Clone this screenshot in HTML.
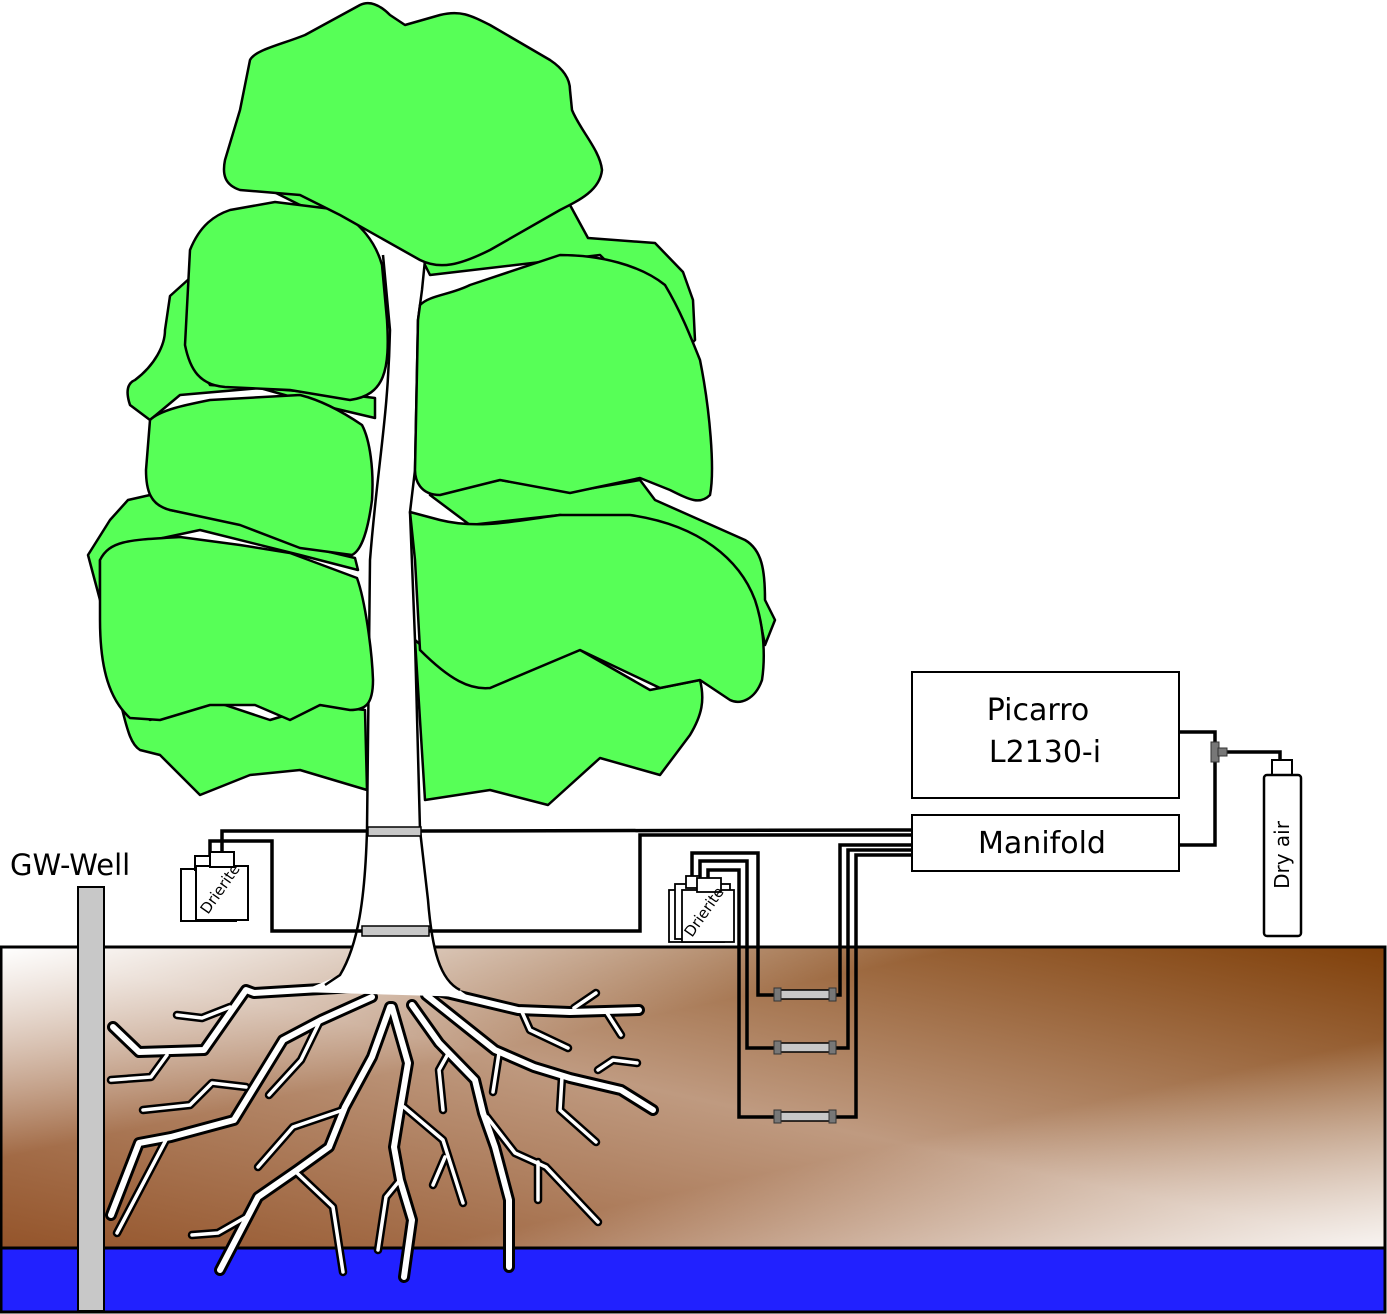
<!DOCTYPE html>
<html><head><meta charset="utf-8"><style>
html,body{margin:0;padding:0;background:#fff;}
svg{display:block;}
text{font-family:"DejaVu Sans","Liberation Sans",sans-serif;}
.mk{stroke:#000;stroke-width:12;}
.mw{stroke:#fff;stroke-width:6;}
.bk{stroke:#000;stroke-width:8.5;}
.bw{stroke:#fff;stroke-width:3.5;}
</style></head><body>
<svg width="1387" height="1314" viewBox="0 0 1387 1314" xmlns="http://www.w3.org/2000/svg">
<defs>
<linearGradient id="g1" x1="1" y1="0" x2="0" y2="1">
<stop offset="0" stop-color="#80400a"/>
<stop offset="0.5" stop-color="#bf9a80"/>
<stop offset="1" stop-color="#94542a"/>
</linearGradient>
<linearGradient id="g2" x1="0" y1="0" x2="1" y2="1">
<stop offset="0" stop-color="#fff" stop-opacity="1"/>
<stop offset="0.35" stop-color="#fff" stop-opacity="0"/>
<stop offset="0.65" stop-color="#fff" stop-opacity="0"/>
<stop offset="1" stop-color="#fff" stop-opacity="0.9"/>
</linearGradient>
</defs>
<!-- soil -->
<rect x="1" y="947" width="1384" height="302" fill="url(#g1)"/>
<rect x="1" y="947" width="1384" height="302" fill="url(#g2)"/>
<rect x="1" y="947" width="1384" height="302" fill="none" stroke="#000" stroke-width="3"/>
<rect x="1" y="1248" width="1384" height="64" fill="#2121ff" stroke="#000" stroke-width="3"/>

<!-- roots -->
<g fill="none" stroke-linejoin="round" stroke-linecap="round">
<g class="mk">
<polyline points="354,987 254,993 246,990 204,1050 139,1052 113,1027"/>
<polyline points="372,997 321,1020 283,1040 234,1120 171,1137 139,1143 111,1215"/>
<polyline points="390,1007 372,1057 345,1107 329,1147 297,1170 258,1197 220,1270"/>
<polyline points="392,1007 408,1063 400,1110 394,1147 400,1180 412,1220 404,1277"/>
<polyline points="412,1005 439,1043 475,1080 483,1113 495,1147 509,1200 509,1267"/>
<polyline points="426,995 495,1050 534,1067 570,1078 621,1090 653,1110"/>
<polyline points="434,990 518,1010 570,1012 639,1010"/>
</g>
<g class="bk">
<polyline points="167,1055 151,1077 111,1080"/>
<polyline points="230,1007 202,1018 177,1015"/>
<polyline points="246,1087 212,1083 190,1105 143,1110"/>
<polyline points="167,1138 117,1233"/>
<polyline points="319,1023 301,1060 269,1095"/>
<polyline points="343,1110 293,1127 258,1167"/>
<polyline points="297,1173 333,1207 343,1272"/>
<polyline points="246,1217 218,1233 192,1235"/>
<polyline points="404,1107 443,1140 463,1203"/>
<polyline points="400,1180 386,1197 378,1250"/>
<polyline points="445,1157 433,1185"/>
<polyline points="449,1052 439,1070 443,1110"/>
<polyline points="487,1117 515,1153 546,1167 598,1222"/>
<polyline points="538,1162 538,1200"/>
<polyline points="499,1053 493,1092"/>
<polyline points="562,1077 560,1110 596,1142"/>
<polyline points="598,1070 613,1060 637,1063"/>
<polyline points="522,1012 530,1030 568,1048"/>
<polyline points="574,1008 596,993"/>
<polyline points="607,1013 621,1035"/>
</g>
<g class="mw">
<polyline points="354,987 254,993 246,990 204,1050 139,1052 113,1027"/>
<polyline points="372,997 321,1020 283,1040 234,1120 171,1137 139,1143 111,1215"/>
<polyline points="390,1007 372,1057 345,1107 329,1147 297,1170 258,1197 220,1270"/>
<polyline points="392,1007 408,1063 400,1110 394,1147 400,1180 412,1220 404,1277"/>
<polyline points="412,1005 439,1043 475,1080 483,1113 495,1147 509,1200 509,1267"/>
<polyline points="426,995 495,1050 534,1067 570,1078 621,1090 653,1110"/>
<polyline points="434,990 518,1010 570,1012 639,1010"/>
</g>
<g class="bw">
<polyline points="167,1055 151,1077 111,1080"/>
<polyline points="230,1007 202,1018 177,1015"/>
<polyline points="246,1087 212,1083 190,1105 143,1110"/>
<polyline points="167,1138 117,1233"/>
<polyline points="319,1023 301,1060 269,1095"/>
<polyline points="343,1110 293,1127 258,1167"/>
<polyline points="297,1173 333,1207 343,1272"/>
<polyline points="246,1217 218,1233 192,1235"/>
<polyline points="404,1107 443,1140 463,1203"/>
<polyline points="400,1180 386,1197 378,1250"/>
<polyline points="445,1157 433,1185"/>
<polyline points="449,1052 439,1070 443,1110"/>
<polyline points="487,1117 515,1153 546,1167 598,1222"/>
<polyline points="538,1162 538,1200"/>
<polyline points="499,1053 493,1092"/>
<polyline points="562,1077 560,1110 596,1142"/>
<polyline points="598,1070 613,1060 637,1063"/>
<polyline points="522,1012 530,1030 568,1048"/>
<polyline points="574,1008 596,993"/>
<polyline points="607,1013 621,1035"/>
</g>
</g>

<!-- canopy back -->
<g fill="#57ff57" stroke="#000" stroke-width="2.5" stroke-linejoin="round">
<path d="M420,255 L570,205 L588,238 L655,243 L683,272 L693,300 L695,340 L690,345 L600,255 L430,275 Z"/>
<path d="M170,296 L190,278 L188,345 L210,385 L285,390 L350,395 L375,398 L375,418 L320,405 L260,388 L180,395 L150,420 L130,405 C125,390 128,383 135,380 C155,365 165,345 165,330 Z"/>
<path d="M128,500 L150,495 L170,510 L250,525 L300,545 L355,558 L358,570 L300,555 L200,530 L130,545 L100,560 L100,600 L88,555 L110,520 Z"/>
<path d="M430,495 L500,480 L570,492 L640,480 L655,500 L700,520 L745,540 C762,550 765,570 765,600 L775,620 L765,645 L760,620 L740,580 L700,545 L640,525 L560,515 L470,525 Z"/>
<path d="M120,700 L150,720 L210,700 L270,720 L320,705 L365,710 L367,790 L300,770 L250,775 L200,795 L160,755 L140,750 C132,745 128,735 120,700 Z"/>
<path d="M415,640 L450,670 L490,688 L530,670 L580,650 L650,690 L700,680 C705,700 702,715 690,735 L660,775 L600,758 L548,805 L490,790 L425,800 Z"/>
<path d="M270,190 L380,200 L385,230 L300,205 Z"/>
</g>
<!-- trunk -->
<path d="M383,255 L390,330 C388,420 378,460 370,560 L367,830 C365,900 358,945 340,975 L300,992 L470,997 C440,980 432,950 428,900 L420,830 L415,640 L410,512 L415,470 L418,320 L422,290 L425,260 Z" fill="#fff"/>
<path d="M383,255 L390,330 C388,420 378,460 370,560 L367,830 C365,900 358,945 340,975 L325,985" fill="none" stroke="#000" stroke-width="2.5"/>
<path d="M425,260 L422,290 L418,320 L415,470 L410,512 L415,640 L420,830 L428,900 C432,950 440,980 460,990" fill="none" stroke="#000" stroke-width="2.5"/>
<!-- canopy front -->
<g fill="#57ff57" stroke="#000" stroke-width="2.5" stroke-linejoin="round">
<path d="M420,305 C430,295 450,295 470,285 L560,255 C600,255 640,265 665,285 C680,310 690,335 700,360 C710,410 715,470 710,495 C700,505 690,500 670,490 L640,478 L570,493 L500,480 L440,495 C420,495 415,480 415,470 L418,320 Z"/>
<path d="M190,250 C200,225 215,215 230,210 L275,202 L340,210 C360,225 375,240 382,265 L387,320 C390,370 385,395 350,400 L290,390 L225,387 C200,385 190,370 185,345 Z"/>
<path d="M250,60 C255,50 280,45 305,35 L360,5 C370,0 380,5 390,15 L405,25 L440,15 C460,10 470,15 490,25 L550,60 C565,70 570,80 570,90 L572,110 C580,130 600,150 602,170 C600,190 580,200 560,210 L490,250 C460,265 440,270 420,260 L340,215 L300,195 L240,190 C225,185 222,175 225,160 L240,110 Z"/>
<path d="M150,420 C160,410 185,405 210,400 L300,395 C320,400 340,410 362,425 C370,440 374,470 372,500 C368,530 362,550 352,555 L300,548 L240,525 L170,510 C150,505 146,490 146,470 Z"/>
<path d="M410,512 L440,520 C480,530 520,520 560,515 L630,515 C700,525 740,560 755,600 C765,630 765,660 762,680 C755,700 740,705 730,700 L700,680 L660,688 L580,650 L490,688 C470,690 450,680 420,650 L415,560 Z"/>
<path d="M100,560 C110,540 130,540 180,537 L240,545 L290,553 L357,578 C365,600 372,650 373,680 C373,705 365,710 350,710 L320,705 L290,720 L255,705 L210,705 L160,720 L130,718 C110,700 100,670 100,620 Z"/>
</g>
<!-- trunk bands -->
<rect x="368" y="827" width="53" height="9" fill="#c8c8c8" stroke="#000" stroke-width="1.5"/>
<rect x="362" y="926" width="67" height="10" fill="#c8c8c8" stroke="#000" stroke-width="1.5"/>

<!-- well -->
<rect x="78" y="887" width="26" height="424" fill="#c8c8c8" stroke="#000" stroke-width="2"/>
<text x="10" y="875" font-size="29">GW-Well</text>

<!-- tubes -->
<g fill="none" stroke="#000" stroke-width="3.5">
<polyline points="912,830 421,831"/>
<polyline points="368,831 222,831 222,855"/>
<polyline points="912,835 640,835 640,931 429,931"/>
<polyline points="362,931 272,931 272,841 210,841 210,855"/>
<polyline points="912,845 840,845 840,995 835,995"/>
<polyline points="912,850 848,850 848,1048 835,1048"/>
<polyline points="912,855 856,855 856,1117 835,1117"/>
<polyline points="775,995 758,995 758,853 692,853 692,880"/>
<polyline points="775,1048 747,1048 747,861 700,861 700,880"/>
<polyline points="775,1117 739,1117 739,870 708,870 708,880"/>
<polyline points="1179,732 1215,732 1215,845 1179,845"/>
<polyline points="1215,752 1280,752 1280,760"/>
</g>
<g fill="#c8c8c8" stroke="#000" stroke-width="1.5">
<rect x="777" y="990" width="56" height="9"/>
<rect x="777" y="1043" width="56" height="9"/>
<rect x="777" y="1112" width="56" height="9"/>
</g>
<g fill="#777" stroke="#333" stroke-width="1">
<rect x="774" y="988" width="7" height="13"/><rect x="829" y="988" width="7" height="13"/>
<rect x="774" y="1041" width="7" height="13"/><rect x="829" y="1041" width="7" height="13"/>
<rect x="774" y="1110" width="7" height="13"/><rect x="829" y="1110" width="7" height="13"/>
<rect x="1211" y="742" width="8" height="20"/><rect x="1218" y="748" width="9" height="8"/>
</g>

<!-- left drierite -->
<g fill="#fff" stroke="#000" stroke-width="2">
<rect x="181" y="869" width="55" height="52"/>
<rect x="195" y="856" width="20" height="14"/>
<rect x="196" y="866" width="52" height="54"/>
<rect x="210" y="852" width="24" height="15"/>
</g>
<text transform="translate(208,915) rotate(-55)" font-size="15">Drierite</text>
<!-- right drierite -->
<g fill="#fff" stroke="#000" stroke-width="1.8">
<rect x="669" y="890" width="55" height="52"/>
<rect x="675" y="884" width="55" height="55"/>
<rect x="682" y="890" width="52" height="52"/>
<rect x="686" y="876" width="14" height="12"/>
<rect x="697" y="878" width="24" height="14"/>
</g>
<text transform="translate(692,938) rotate(-55)" font-size="15">Drierite</text>

<!-- picarro / manifold -->
<rect x="912" y="672" width="267" height="126" fill="#fff" stroke="#000" stroke-width="2"/>
<text x="1038" y="720" font-size="30" text-anchor="middle">Picarro</text>
<text x="1045" y="762" font-size="30" text-anchor="middle">L2130-i</text>
<rect x="912" y="815" width="267" height="56" fill="#fff" stroke="#000" stroke-width="2"/>
<text x="1042" y="853" font-size="30" text-anchor="middle">Manifold</text>
<!-- dry air -->
<rect x="1272" y="760" width="20" height="16" fill="#fff" stroke="#000" stroke-width="2"/>
<rect x="1264" y="775" width="37" height="161" rx="3" fill="#fff" stroke="#000" stroke-width="2.5"/>
<text transform="translate(1289,855) rotate(-90)" font-size="20" text-anchor="middle">Dry air</text>
</svg>
</body></html>
